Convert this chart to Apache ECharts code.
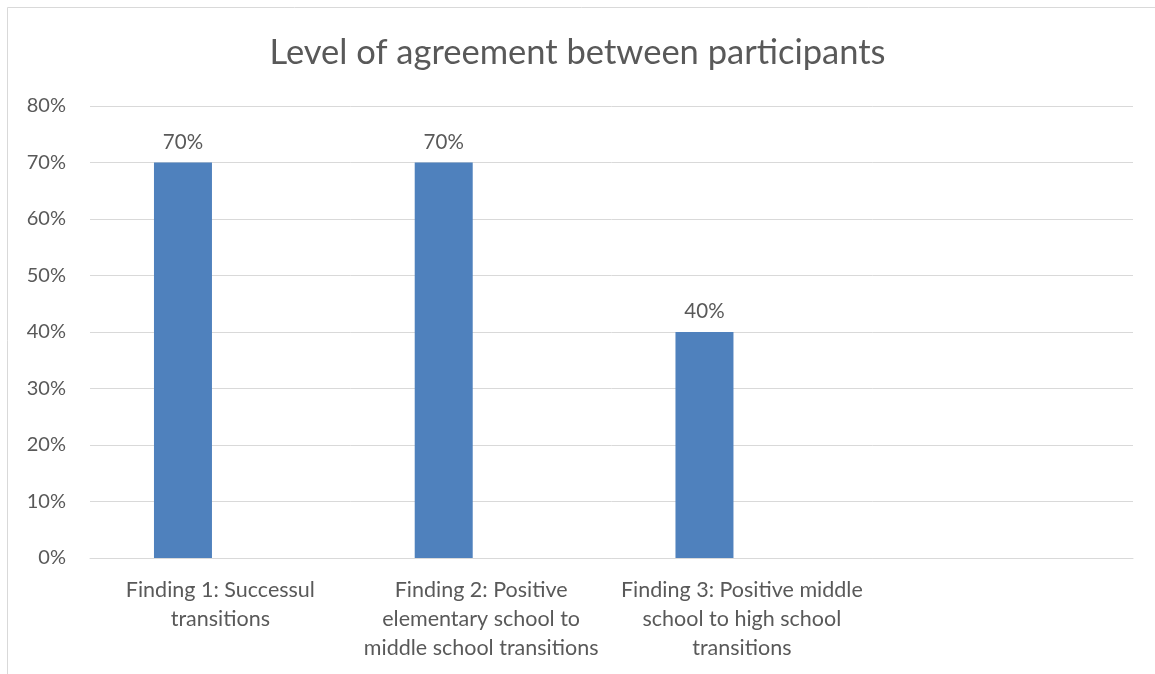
<!DOCTYPE html>
<html>
<head>
<meta charset="utf-8">
<script src="https://cdn.jsdelivr.net/npm/echarts@6/dist/echarts.min.js"></script>
<style>html,body{margin:0;padding:0;background:#fff}#c{width:1155px;height:674px}</style>
</head>
<body>
<div id="c"></div>
<script>
const titleText = "Level of agreement between participants";
const categories = [
  "Finding 1: Successul\ntransitions",
  "Finding 2: Positive\nelementary school to\nmiddle school transitions",
  "Finding 3: Positive middle\nschool to high school\ntransitions",
  ""
];
const agreement = [0.70, 0.70, 0.40, null];
const emptySeries = [null, null, null, null];
const yMin = 0, yMax = 0.8, yStep = 0.1;

const FONT = "Lato";
const TXT = "#595959";
const chart = echarts.init(document.getElementById('c'), null, {renderer: 'canvas'});
chart.setOption({
  animation: false,
  backgroundColor: '#fff',
  title: {
    text: titleText, left: 'center', top: 30,
    textStyle: {fontFamily: FONT, fontSize: 34.5, fontWeight: 'normal', color: TXT}
  },
  graphic: [
    {type: 'line', shape: {x1: 7.5, y1: 7.5, x2: 1155, y2: 7.5}, style: {stroke: '#D9D9D9', lineWidth: 1}},
    {type: 'line', shape: {x1: 7.5, y1: 7.5, x2: 7.5, y2: 674}, style: {stroke: '#D9D9D9', lineWidth: 1}}
  ],
  grid: {left: 90, right: 22, top: 106, bottom: 116, containLabel: false},
  xAxis: {
    type: 'category', data: categories,
    axisLine: {lineStyle: {color: '#D9D9D9', width: 1}},
    axisTick: {show: false},
    axisLabel: {interval: 0, color: TXT, fontFamily: FONT, fontSize: 21.5, lineHeight: 29, margin: 18}
  },
  yAxis: {
    type: 'value', min: yMin, max: yMax, interval: yStep,
    axisLine: {show: false}, axisTick: {show: false},
    splitLine: {lineStyle: {color: '#D9D9D9', width: 1}},
    axisLabel: {color: TXT, fontFamily: FONT, fontSize: 20, margin: 24,
      formatter: v => Math.round(v * 100) + '%'}
  },
  series: [
    {
      name: 'Agreement', type: 'bar', data: agreement, barWidth: 58, barGap: '29%',
      itemStyle: {color: '#4F81BD'},
      label: {show: true, position: 'top', distance: 10, color: TXT, fontFamily: FONT, fontSize: 20.5,
        formatter: p => p.value == null ? '' : Math.round(p.value * 100) + '%'}
    },
    {
      name: 'Series 2', type: 'bar', data: emptySeries, barWidth: 58,
      itemStyle: {color: '#C0504D'}
    }
  ]
});
</script>
</body>
</html>
